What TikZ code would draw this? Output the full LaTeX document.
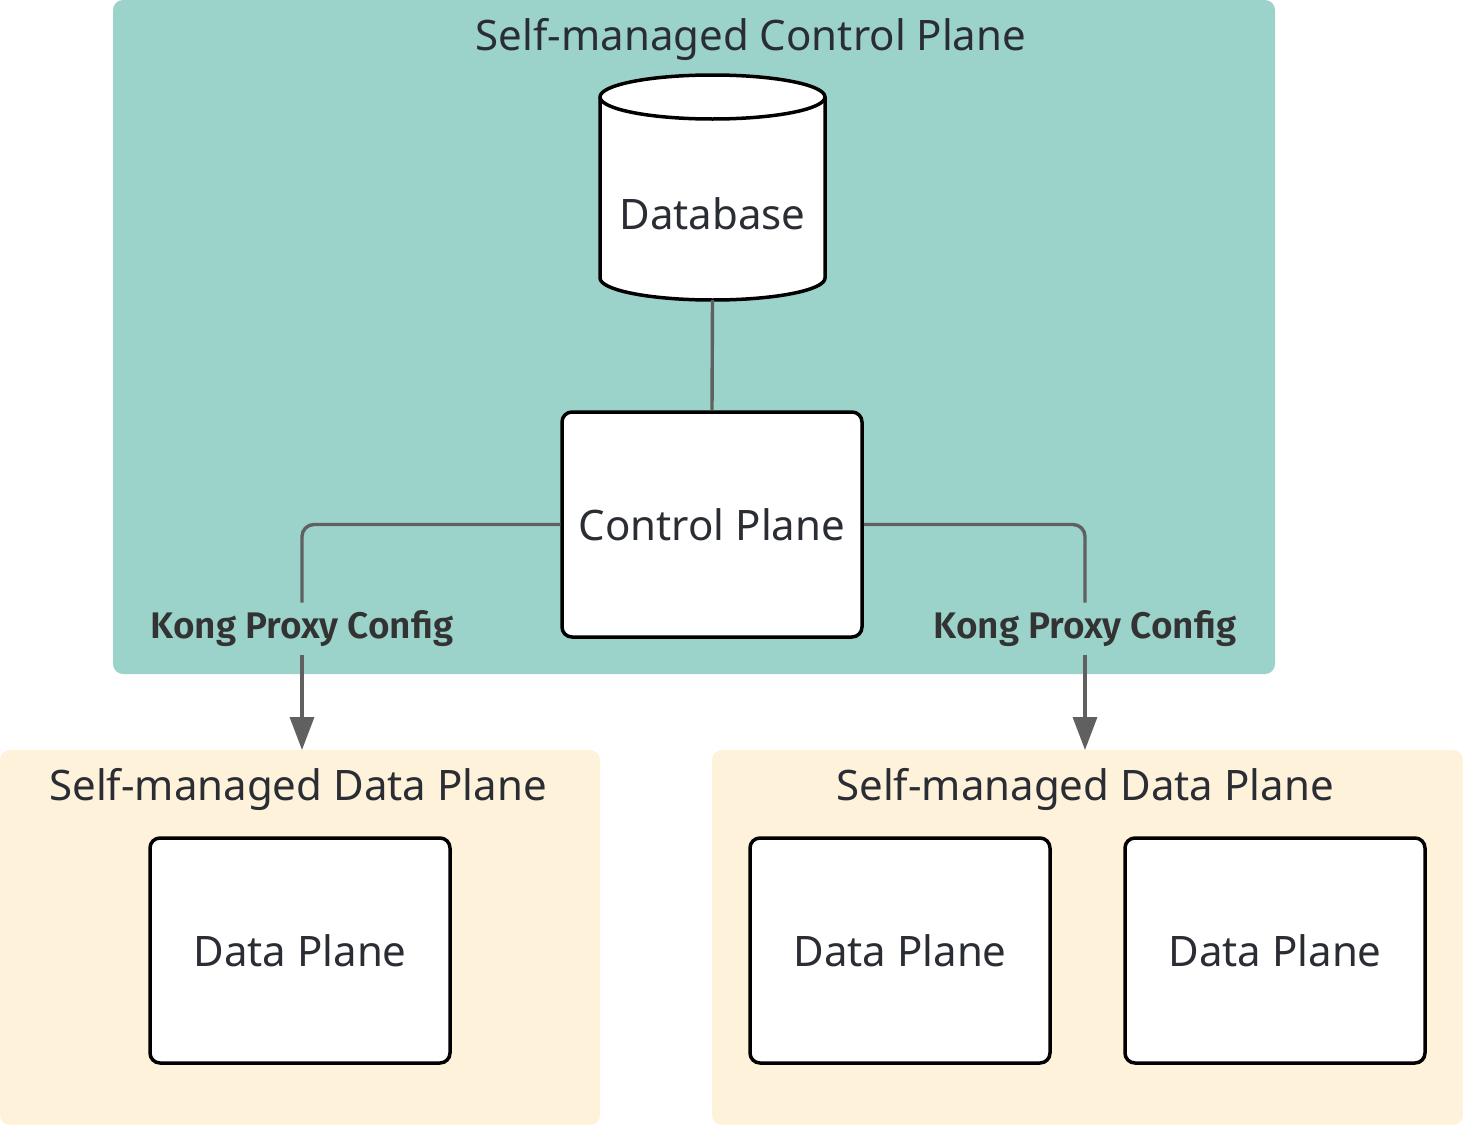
\documentclass[tikz,border=0pt]{standalone}
\usepackage{fontspec}
\setmainfont{Noto Sans}
\newfontfamily\lblfont{Fira Sans SemiBold}
\usetikzlibrary{arrows.meta,shapes.geometric}
\definecolor{teal}{HTML}{9BD3CB}
\definecolor{cream}{HTML}{FEF2DA}
\definecolor{conn}{HTML}{606060}
\definecolor{ink}{HTML}{2A2D34}
\tikzset{
  grouptitle/.style={text=ink, font=\fontsize{21}{24}\selectfont, inner sep=0pt},
  box/.style={draw=black, line width=1.75pt, fill=white, rounded corners=5pt,
    minimum width=150pt, minimum height=112.5pt, inner sep=0pt,
    text=ink, font=\fontsize{21}{24}\selectfont},
  conn/.style={draw=conn, line width=1.7pt},
  lbl/.style={text=black!80, font=\lblfont\fontsize{18.5}{21}\selectfont,
    inner sep=0pt, minimum height=26pt},
}
\begin{document}
\begin{tikzpicture}[x=0.5pt,y=-0.5pt]
\useasboundingbox (0,0) rectangle (1463,1125);
% groups
\fill[teal, rounded corners=5pt] (113,0) rectangle (1275,674);
\node[grouptitle] (cptitle) at (751,39) {Self-managed Control Plane};
\fill[cream, rounded corners=5pt] (0,750) rectangle (600,1125);
\fill[cream, rounded corners=5pt] (712,750) rectangle (1463,1125);
\coordinate (dpg1) at (302,750);
\coordinate (dpg2) at (1085,750);
\node[grouptitle] (dptitle1) at (298,789) {Self-managed Data Plane};
\node[grouptitle] (dptitle2) at (1085,789) {Self-managed Data Plane};
% database cylinder
\draw[line width=1.75pt, fill=white]
  (600,97) -- (600,278) arc[start angle=180, end angle=0, x radius=112.5, y radius=22]
  -- (825,97) arc[start angle=0, end angle=-180, x radius=112.5, y radius=22] -- cycle;
\draw[line width=1.75pt] (600,97) arc[start angle=180, end angle=0, x radius=112.5, y radius=22];
\node[text=ink, font=\fontsize{21}{24}\selectfont, inner sep=0pt] (db) at (712.5,214) {Database};
\coordinate (dbbottom) at (712.5,300);
% control plane
\node[box] (cp) at (712,524.5) {Control Plane};
\draw[conn] (dbbottom) -- (cp.north);
% data planes
\node[box] (dp1) at (300,950.5) {Data Plane};
\node[box] (dp2) at (900,950.5) {Data Plane};
\node[box] (dp3) at (1275,950.5) {Data Plane};
% labels
\node[lbl] (l1) at (302,629) {Kong Proxy Config};
\node[lbl] (l2) at (1085,629) {Kong Proxy Config};
% connectors
\draw[conn, rounded corners=6pt] (cp.west) -| (l1.north);
\draw[conn, -{Triangle[length=16.5pt,width=12pt]}] (l1.south) -- (dpg1);
\draw[conn, rounded corners=6pt] (cp.east) -| (l2.north);
\draw[conn, -{Triangle[length=16.5pt,width=12pt]}] (l2.south) -- (dpg2);
\end{tikzpicture}
\end{document}
